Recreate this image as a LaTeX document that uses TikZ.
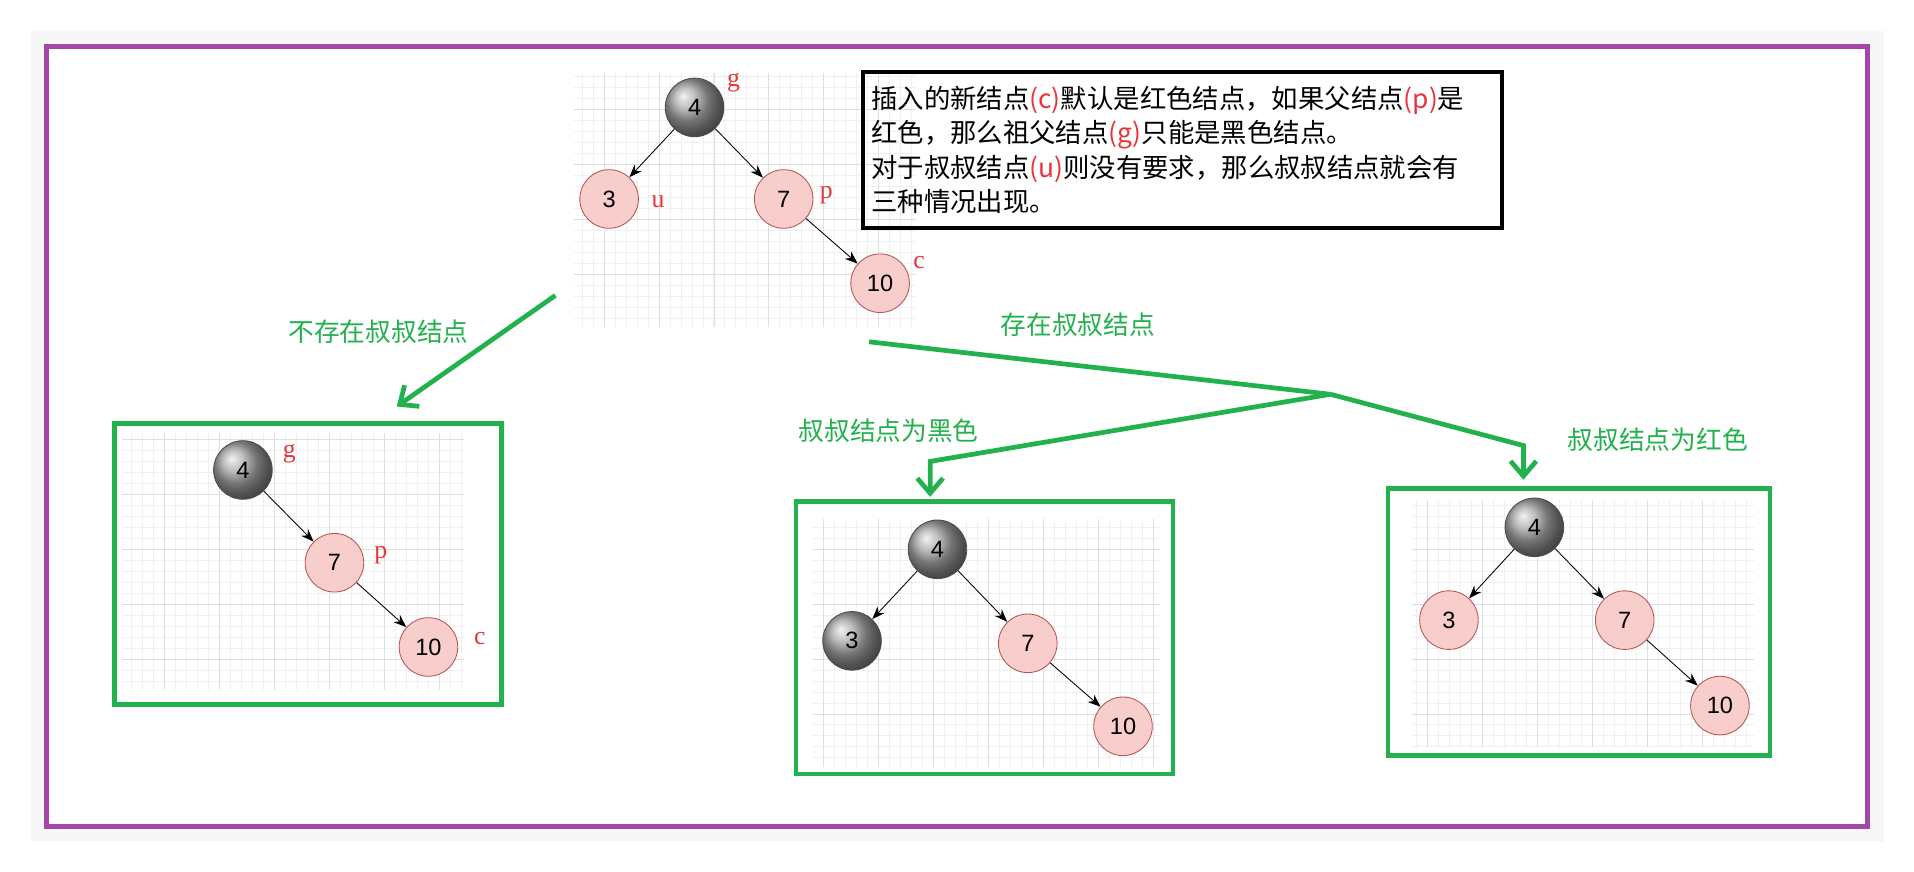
\documentclass[tikz,border=0pt]{standalone}
\usepackage{fontspec}
\setmainfont{Liberation Sans}
\newfontfamily\cjk{Noto Sans CJK SC}
\newfontfamily\serifr{Liberation Serif}
\usetikzlibrary{arrows.meta}
\definecolor{pinkf}{HTML}{F8CECC}
\definecolor{pinkd}{HTML}{B85450}
\definecolor{grn}{HTML}{22B14C}
\definecolor{purp}{HTML}{A347A8}
\definecolor{lab}{HTML}{E8343A}
\begin{document}
\begin{tikzpicture}[x=0.02cm,y=-0.02cm,
  rn/.style={circle,draw=pinkd,fill=pinkf,minimum size=0.96cm,inner sep=0pt,font=\fontsize{11}{11}\selectfont},
  bn/.style={circle,draw=black!70,ball color=black!35,minimum size=0.96cm,inner sep=0pt,font=\fontsize{11}{11}\selectfont},
  ed/.style={-{Stealth[length=6pt]},thin},
  lb/.style={text=lab,font=\serifr\fontsize{12}{12}\selectfont},
  gl/.style={text=grn,font=\cjk\fontsize{12}{12}\selectfont},
  ga/.style={draw=grn,line width=2.2pt},
  gt/.style={-{Straight Barb[length=7pt,width=12pt]}},
  gbox/.style={draw=grn,line width=2.2pt}]
\useasboundingbox (0,0) rectangle (1568,714);
\fill[black!3] (25,25) rectangle (1543,690);
\fill[white] (38,38) rectangle (1530,677);
\draw[purp,line width=2.5pt] (38,38) rectangle (1530,677);
% grids
\newcommand{\gridpanel}[4]{%
  \fill[white] (#1,#2) rectangle (#3,#4);
  \draw[black!6,step=0.18cm] (#1,#2) grid (#3,#4);
  \draw[black!13,step=0.9cm] (#1,#2) grid (#3,#4);}
\gridpanel{470}{60}{750}{268}
\gridpanel{100}{355}{380}{565}
\gridpanel{666}{425}{950}{628}
\gridpanel{1157}{410}{1437}{612}
% top tree
\node[bn] (a4) at (569,88) {4};
\node[rn] (a3) at (499,163) {3};
\node[rn] (a7) at (642,163) {7};
\node[rn] (a10) at (721,232) {10};
\draw[ed] (a4)--(a3); \draw[ed] (a4)--(a7); \draw[ed] (a7)--(a10);
\node[lb] (ag) at (601,68) {g};
\node[lb] (au) at (539,165) {u};
\node[lb] (ap) at (677,160) {p};
\node[lb] (ac) at (753,215) {c};
% text box
\node[draw=black,line width=2pt,anchor=north west,minimum width=10.46cm,minimum height=2.56cm,text width=10.2cm,align=left,inner sep=4pt,font=\cjk\fontsize{12.3}{16}\selectfont] (tb) at (705,57)
{插入的新结点{\color{lab}(c)}默认是红色结点，如果父结点{\color{lab}(p)}是\\红色，那么祖父结点{\color{lab}(g)}只能是黑色结点。\\对于叔叔结点{\color{lab}(u)}则没有要求，那么叔叔结点就会有\\三种情况出现。};
% green arrows
\coordinate (s1) at (455,242); \coordinate (e1) at (325,333);
\draw[ga,gt] (s1)--(e1);
\node[gl] (l1) at (310,272) {不存在叔叔结点};
\coordinate (s2) at (712,280); \coordinate (m2) at (1090,323);
\coordinate (k1) at (762,378); \coordinate (e2) at (762,407);
\coordinate (k2) at (1248,365); \coordinate (e3) at (1248,393);
\draw[ga] (s2)--(m2);
\draw[ga,gt] (m2)--(k1)--(e2);
\draw[ga,gt] (m2)--(k2)--(e3);
\node[gl] (l2) at (883,266) {存在叔叔结点};
\node[gl] (l3) at (728,353) {叔叔结点为黑色};
\node[gl] (l4) at (1358,360) {叔叔结点为红色};
% left box
\draw[gbox] (94,347) rectangle (411,577);
\node[bn] (b4) at (199,385) {4};
\node[rn] (b7) at (274,461) {7};
\node[rn] (b10) at (351,530) {10};
\draw[ed] (b4)--(b7); \draw[ed] (b7)--(b10);
\node[lb] (bg) at (237,372) {g};
\node[lb] (bp) at (312,455) {p};
\node[lb] (bc) at (393,523) {c};
% middle box
\draw[gbox] (652,411) rectangle (961,634);
\node[bn] (c4) at (768,450) {4};
\node[bn] (c3) at (698,525) {3};
\node[rn] (c7) at (842,527) {7};
\node[rn] (c10) at (920,595) {10};
\draw[ed] (c4)--(c3); \draw[ed] (c4)--(c7); \draw[ed] (c7)--(c10);
% right box
\draw[gbox] (1137,400) rectangle (1450,619);
\node[bn] (d4) at (1257,432) {4};
\node[rn] (d3) at (1187,508) {3};
\node[rn] (d7) at (1331,508) {7};
\node[rn] (d10) at (1409,578) {10};
\draw[ed] (d4)--(d3); \draw[ed] (d4)--(d7); \draw[ed] (d7)--(d10);
\end{tikzpicture}
\end{document}
